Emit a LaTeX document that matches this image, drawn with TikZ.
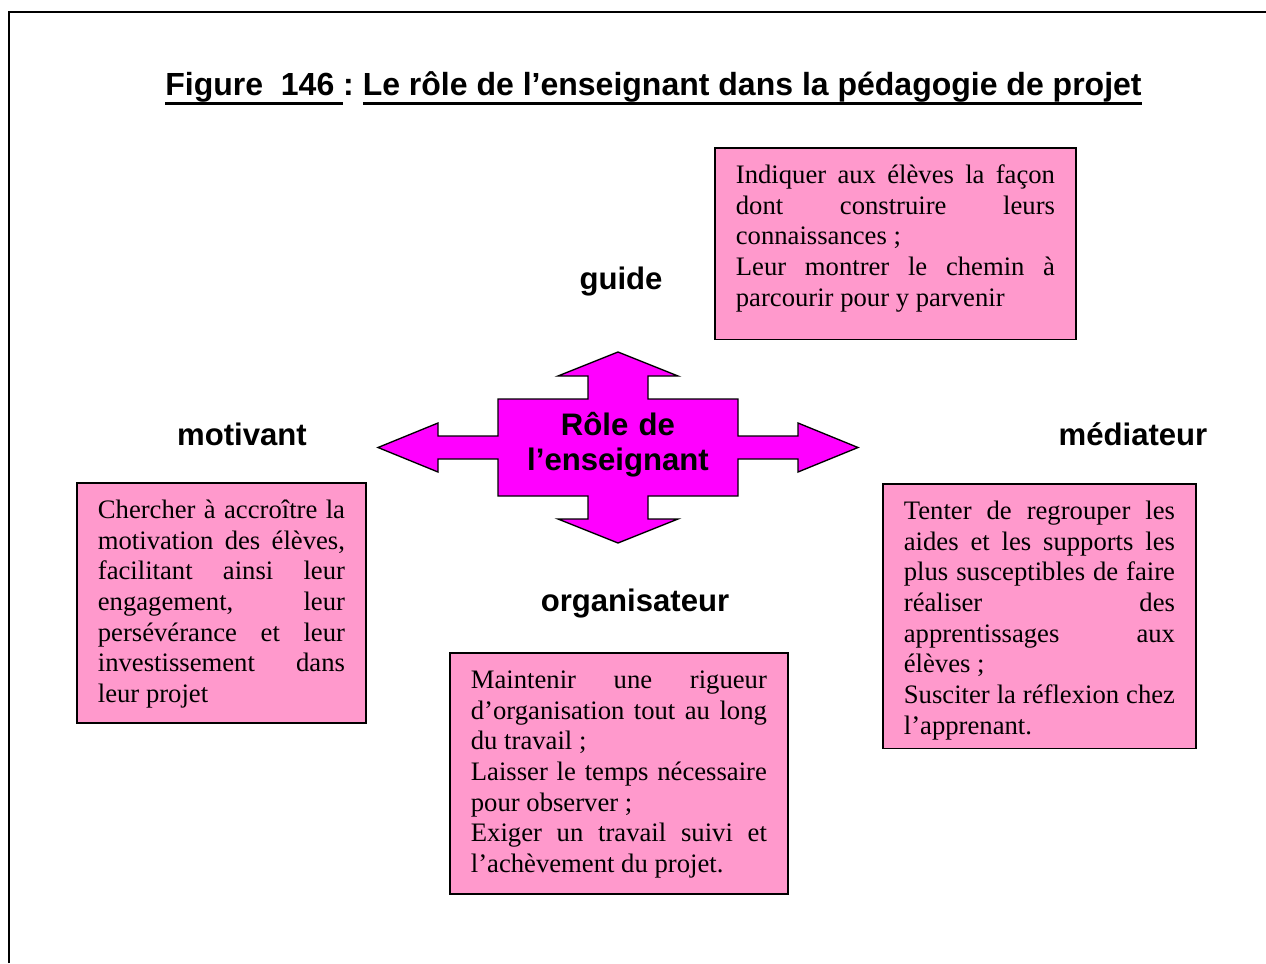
\documentclass[tikz,border=0pt]{standalone}
\usepackage{fontspec}
\setmainfont{Liberation Serif}
\newfontfamily\arialfont{Liberation Sans}
\setlength{\parindent}{0pt}
\tolerance=10000
\hbadness=10000
\hyphenpenalty=10000

\begin{document}
\begin{tikzpicture}[x=0.45pt, y=-0.45pt,
    textbox/.style={draw=borderColour, fill=boxColour, line width=0.8pt, anchor=north west,
        align=justify, inner xsep=9.45pt, inner ysep=0pt, font=\fontsize{12}{13.8}\selectfont},
    rolelabel/.style={anchor=base, font=\arialfont\bfseries\fontsize{14}{16}\selectfont}]
    % Define colours
    \definecolor{borderColour}{HTML}{000000}
    \definecolor{boxColour}{HTML}{FF99CC}
    \definecolor{arrowColour}{HTML}{FF00FF}

    % Gaps above the first and below the last line of a box
    \def\topgap{\rule{0pt}{16pt}}
    \def\botgap#1{\rule[-#1]{0pt}{0pt}}
    % Underlined piece of the title
    \def\ulbox#1{\setbox0=\hbox{#1}\rlap{\rule[-4.5pt]{\wd0}{1.35pt}}\box0}

    % Fix page size
    \useasboundingbox (0,0) rectangle (1266,963);

    % Draw frame
    \draw[line width=0.9pt] (9,963) -- (9,12) -- (1266,12);

    % Title
    \node[rolelabel, font=\arialfont\bfseries\fontsize{14.4}{16}\selectfont] (title) at (653.5,95)
        {\ulbox{Figure~~146~}:~\ulbox{Le rôle de l’enseignant dans la pédagogie de projet}};

    % Define the centre of the arrow
    \coordinate (center) at (618,447.5);

    % Draw the four-way arrow around the centre
    \begin{scope}[shift={(center)}]
        \filldraw[fill=arrowColour, draw=borderColour, line width=0.6pt]
            (0,-95.5) -- (60,-71.5) -- (30,-71.5) -- (30,-48.5) -- (120,-48.5) -- (120,-11.5)
            -- (180,-11.5) -- (180,-24.5) -- (240,0) -- (180,24.5) -- (180,11.5) -- (120,11.5)
            -- (120,48.5) -- (30,48.5) -- (30,71.5) -- (60,71.5) -- (0,95.5) -- (-60,71.5)
            -- (-30,71.5) -- (-30,48.5) -- (-120,48.5) -- (-120,11.5) -- (-180,11.5) -- (-180,24.5)
            -- (-240,0) -- (-180,-24.5) -- (-180,-11.5) -- (-120,-11.5) -- (-120,-48.5)
            -- (-30,-48.5) -- (-30,-71.5) -- (-60,-71.5) -- cycle;
    \end{scope}
    \node[rolelabel, font=\arialfont\bfseries\fontsize{14}{15.75}\selectfont, text width=100pt, align=center]
        (role) at (618,435.5) {Rôle de\\l’enseignant};

    % Labels of the four roles
    \node[rolelabel] (guide) at (621,289) {guide};
    \node[rolelabel] (motivant) at (242,445) {motivant};
    \node[rolelabel] (mediateur) at (1133,445) {médiateur};
    \node[rolelabel] (organisateur) at (635,611) {organisateur};

    % Boxes with the tasks
    \node[textbox, text width=143.6pt] (guidebox) at (714,147)
        {\topgap Indiquer aux élèves la façon\linebreak dont construire leurs\linebreak connaissances~;\par
         Leur montrer le chemin à\linebreak parcourir pour y parvenir\botgap{15.05pt}};
    \node[textbox, text width=111.2pt] (motivantbox) at (76,482)
        {\topgap Chercher à accroître la\linebreak motivation des élèves,\linebreak facilitant ainsi leur\linebreak
         engagement, leur\linebreak persévérance et leur\linebreak investissement dans\linebreak
         leur projet\botgap{9.2pt}};
    \node[textbox, text width=133.2pt] (organisateurbox) at (449,652)
        {\topgap Maintenir une rigueur\linebreak d’organisation tout au long\linebreak du travail~;\par
         Laisser le temps nécessaire\linebreak pour observer~;\par
         Exiger un travail suivi et\linebreak l’achèvement du projet.\botgap{9.65pt}};
    \node[textbox, text width=122pt] (mediateurbox) at (882,483)
        {\topgap Tenter de regrouper les\linebreak aides et les supports les\linebreak plus susceptibles de faire\linebreak
         réaliser des\linebreak apprentissages aux\linebreak élèves~;\par
         Susciter la réflexion chez\linebreak l’apprenant.\botgap{6.5pt}};
\end{tikzpicture}
\end{document}
